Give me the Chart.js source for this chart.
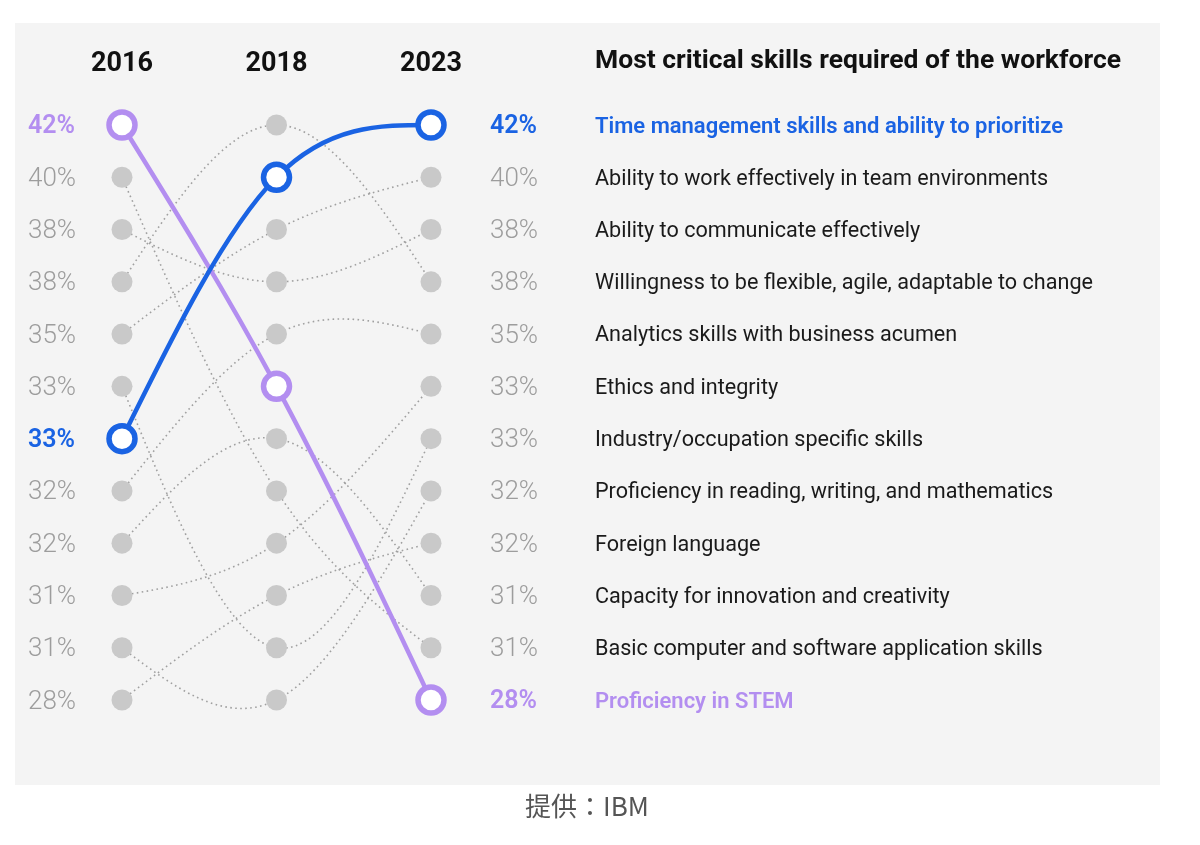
<!DOCTYPE html>
<html>
<head>
<meta charset="utf-8">
<script src="https://cdn.jsdelivr.net/npm/chart.js@4"></script>
<style>
  html, body { margin: 0; padding: 0; background: #fff; }
  canvas { display: block; }
</style>
</head>
<body>
<canvas id="myChart" width="1200" height="845"></canvas>
<script>
const years = ['2016', '2018', '2023'];

// skills in 2023 order
const skills = [
  'Time management skills and ability to prioritize',
  'Ability to work effectively in team environments',
  'Ability to communicate effectively',
  'Willingness to be flexible, agile, adaptable to change',
  'Analytics skills with business acumen',
  'Ethics and integrity',
  'Industry/occupation specific skills',
  'Proficiency in reading, writing, and mathematics',
  'Foreign language',
  'Capacity for innovation and creativity',
  'Basic computer and software application skills',
  'Proficiency in STEM',
];

// rank of each skill in each year (1 = top)
const rank2016 = [7, 5, 3, 4, 8, 10, 6, 11, 12, 9, 2, 1];
const rank2018 = [2, 3, 4, 1, 5, 9, 11, 12, 10, 7, 8, 6];
const rank2023 = [1, 2, 3, 4, 5, 6, 7, 8, 9, 10, 11, 12];

// percentage shown next to each rank
const pct2016 = ['42%', '40%', '38%', '38%', '35%', '33%', '33%', '32%', '32%', '31%', '31%', '28%'];
const pct2023 = ['42%', '40%', '38%', '38%', '35%', '33%', '33%', '32%', '32%', '31%', '31%', '28%'];

const highlight = {
  0: '#1a63e3',   // time management
  11: '#b38ef0',  // STEM
};

const grayDot = '#c9c9c9';
const grayLine = '#a0a0a0';
const grayText = '#9d9d9d';

const datasets = skills.map((name, i) => {
  const color = highlight[i];
  const ranks = [rank2016[i], rank2018[i], rank2023[i]];
  if (color) {
    return {
      label: name,
      data: ranks,
      borderColor: color,
      borderWidth: 4.5,
      pointRadius: 13,
      pointBorderWidth: 5.5,
      pointBackgroundColor: '#ffffff',
      pointBorderColor: color,
      cubicInterpolationMode: 'monotone',
      clip: false,
      order: 0,
    };
  }
  return {
    label: name,
    data: ranks,
    borderColor: grayLine,
    borderWidth: 1.6,
    borderDash: [1.6, 3.4],
    pointRadius: 10.5,
    pointBorderWidth: 0,
    pointBackgroundColor: grayDot,
    cubicInterpolationMode: 'monotone',
    clip: false,
    order: 1,
  };
});

function colorAt(rankArr, r) {
  const i = rankArr.indexOf(r);
  return highlight[i];
}

// replace chart.js control points with a natural cubic spline
const naturalCurve = {
  id: 'naturalCurve',
  beforeDatasetsDraw(chart) {
    chart.data.datasets.forEach((ds, di) => {
      const meta = chart.getDatasetMeta(di);
      meta.dataset.updateControlPoints(chart.chartArea, 'x');
      const p = meta.data;
      const n = p.length;
      const h = [], d = [];
      for (let k = 0; k < n - 1; k++) {
        h.push(p[k + 1].x - p[k].x);
        d.push((p[k + 1].y - p[k].y) / h[k]);
      }
      // second derivatives, natural ends (M0 = Mn = 0), tridiagonal solve
      const M = new Array(n).fill(0);
      if (n > 2) {
        const a = [], b = [], c = [], r = [];
        for (let k = 1; k < n - 1; k++) {
          a.push(h[k - 1]);
          b.push(2 * (h[k - 1] + h[k]));
          c.push(h[k]);
          r.push(6 * (d[k] - d[k - 1]));
        }
        const m = b.length;
        for (let k = 1; k < m; k++) {
          const w = a[k] / b[k - 1];
          b[k] -= w * c[k - 1];
          r[k] -= w * r[k - 1];
        }
        const sol = new Array(m);
        sol[m - 1] = r[m - 1] / b[m - 1];
        for (let k = m - 2; k >= 0; k--) sol[k] = (r[k] - c[k] * sol[k + 1]) / b[k];
        for (let k = 0; k < m; k++) M[k + 1] = sol[k];
      }
      const slope = [];
      for (let k = 0; k < n; k++) {
        if (k < n - 1) slope.push(d[k] - h[k] * (2 * M[k] + M[k + 1]) / 6);
        else slope.push(d[k - 1] + h[k - 1] * (M[k - 1] + 2 * M[k]) / 6);
      }
      for (let k = 0; k < n; k++) {
        const hl = k > 0 ? h[k - 1] : h[0];
        const hr = k < n - 1 ? h[k] : h[n - 2];
        p[k].cp1x = p[k].x - hl / 3;
        p[k].cp1y = p[k].y - slope[k] * hl / 3;
        p[k].cp2x = p[k].x + hr / 3;
        p[k].cp2y = p[k].y + slope[k] * hr / 3;
      }
    });
  }
};

const textPlugin = {
  id: 'textPlugin',
  beforeDraw(chart) {
    const ctx = chart.ctx;
    ctx.save();
    ctx.fillStyle = '#ffffff';
    ctx.fillRect(0, 0, chart.width, chart.height);
    ctx.fillStyle = '#f4f4f4';
    ctx.fillRect(15, 23, 1145, 762);
    ctx.restore();
  },
  afterDraw(chart) {
    const ctx = chart.ctx;
    const xs = chart.scales.x;
    const ys = chart.scales.y;
    ctx.save();
    ctx.textBaseline = 'middle';

    // year headers
    ctx.fillStyle = '#111';
    ctx.font = 'bold 27px Roboto';
    ctx.textAlign = 'center';
    years.forEach((y, i) => {
      ctx.fillText(y, xs.getPixelForValue(i), 64);
    });

    // title
    ctx.textAlign = 'left';
    ctx.font = 'bold 26.5px Roboto';
    ctx.fillText('Most critical skills required of the workforce', 595, 61, 526);

    for (let r = 1; r <= 12; r++) {
      const py = ys.getPixelForValue(r) + 2;

      // left percentages (2016)
      let c = colorAt(rank2016, r);
      ctx.fillStyle = c || grayText;
      ctx.font = c ? '600 25px Roboto' : '300 26px Roboto';
      ctx.textAlign = 'left';
      ctx.fillText(pct2016[r - 1], 28, py);

      // right percentages (2023)
      c = colorAt(rank2023, r);
      ctx.fillStyle = c || grayText;
      ctx.font = c ? '600 25px Roboto' : '300 26px Roboto';
      ctx.fillText(pct2023[r - 1], 490, py);

      // skill names
      const i = rank2023.indexOf(r);
      ctx.fillStyle = c || '#1a1a1a';
      ctx.font = c ? '600 22px Roboto' : '21.6px Roboto';
      ctx.fillText(skills[i], 595, py);
    }

    // source line
    ctx.fillStyle = '#555';
    ctx.textAlign = 'center';
    ctx.font = '26px "Noto Sans CJK JP"';
    ctx.fillText('提供：IBM', 587, 806);
    ctx.restore();
  }
};

const config = {
  type: 'line',
  data: {
    labels: years,
    datasets: datasets,
  },
  options: {
    responsive: false,
    animation: false,
    layout: {
      padding: { left: 122, right: 769, top: 125, bottom: 145 }
    },
    scales: {
      x: { type: 'category', offset: false, display: false },
      y: { type: 'linear', min: 1, max: 12, reverse: true, display: false },
    },
    plugins: {
      legend: { display: false },
      tooltip: { enabled: false },
    },
  },
  plugins: [textPlugin, naturalCurve],
};

const myChart = new Chart(document.getElementById('myChart'), config);
</script>
</body>
</html>
